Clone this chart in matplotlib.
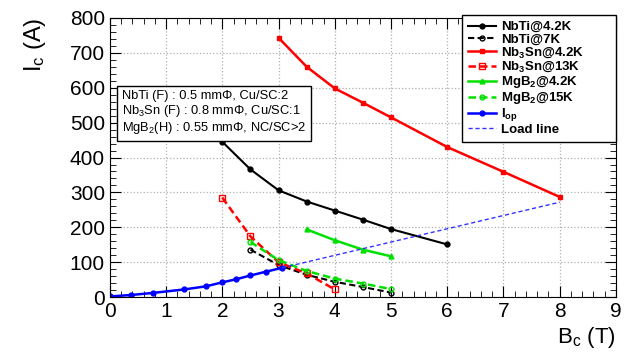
import matplotlib
matplotlib.use("Agg")
import matplotlib.pyplot as plt
from matplotlib.ticker import MultipleLocator

plt.rcParams['font.family'] = ['Liberation Sans', 'DejaVu Sans']
plt.rcParams['mathtext.fontset'] = 'custom'
plt.rcParams['mathtext.rm'] = 'Liberation Sans'
plt.rcParams['mathtext.it'] = 'Liberation Sans'
plt.rcParams['mathtext.bf'] = 'Liberation Sans:bold'

# NbTi
nbti_42_b = [2, 2.5, 3, 3.5, 4, 4.5, 5, 6]
nbti_42_i = [445, 366, 306, 274, 248, 222, 195, 151]
nbti_7_b = [2.5, 3, 3.5, 4, 4.5, 5]
nbti_7_i = [136, 92, 64, 44, 29, 13]
# Nb3Sn
nb3sn_42_b = [3, 3.5, 4, 4.5, 5, 6, 7, 8]
nb3sn_42_i = [743, 660, 598, 557, 515, 430, 359, 287]
nb3sn_13_b = [2, 2.5, 3, 3.5, 4]
nb3sn_13_i = [285, 174, 100, 68, 22]
# MgB2
mgb2_42_b = [3.5, 4, 4.5, 5]
mgb2_42_i = [194, 163, 136, 117]
mgb2_15_b = [2.5, 3, 3.5, 4, 4.5, 5]
mgb2_15_i = [158, 106, 75, 53, 39, 23]
# operating current and load line
iop_b = [0, 0.37, 0.76, 1.32, 1.71, 1.99, 2.24, 2.5, 2.78, 3.06]
iop_i = [2, 6, 12, 22, 31, 42, 51, 62, 73, 84]
load_b = [3.06, 8]
load_i = [84, 272]

info_lines = ["NbTi (F) : 0.5 mm\u03a6, Cu/SC:2",
              "Nb$_3$Sn (F) : 0.8 mm\u03a6, Cu/SC:1",
              "MgB$_2$(H) : 0.55 mm\u03a6, NC/SC>2"]

fig = plt.figure(figsize=(6.35, 3.58), dpi=100)
ax = fig.add_axes([0.173, 0.170, 0.797, 0.780])

ms = 3.5
green = '#00e000'
dash = (3, 1.6)
ax.plot(nbti_42_b, nbti_42_i, '-o', color='black', lw=1.5, ms=ms, label='NbTi@4.2K')
ax.plot(nbti_7_b, nbti_7_i, '--o', color='black', lw=1.5, ms=ms, mfc='none', dashes=dash, label='NbTi@7K')
ax.plot(nb3sn_42_b, nb3sn_42_i, '-s', color='red', lw=1.8, ms=ms, label=r'Nb$_\mathbf{3}$Sn@4.2K')
ax.plot(nb3sn_13_b, nb3sn_13_i, '--s', color='red', lw=1.8, ms=ms + 1, mfc='none', dashes=dash,
        label=r'Nb$_\mathbf{3}$Sn@13K')
ax.plot(mgb2_42_b, mgb2_42_i, '-^', color=green, lw=1.8, ms=ms, label=r'MgB$_\mathbf{2}$@4.2K')
ax.plot(mgb2_15_b, mgb2_15_i, '--o', color=green, lw=1.8, ms=ms, mfc='none', dashes=dash,
        label=r'MgB$_\mathbf{2}$@15K')
ax.plot(iop_b, iop_i, '-o', color='blue', lw=1.8, ms=ms, label=r'I$_\mathbf{op}$')
ax.plot(load_b, load_i, '--', color='#3333ff', lw=1.0, dashes=(3, 2), label='Load line')

ax.set_xlim(0, 9)
ax.set_ylim(0, 800)
ax.xaxis.set_major_locator(MultipleLocator(1))
ax.xaxis.set_minor_locator(MultipleLocator(0.2))
ax.yaxis.set_major_locator(MultipleLocator(100))
ax.yaxis.set_minor_locator(MultipleLocator(20))
ax.tick_params(which='both', direction='in', top=True, right=True, labelsize=15)
ax.tick_params(which='major', length=8)
ax.tick_params(which='minor', length=4)
ax.grid(True, which='major', color='#b0b0b0', ls=':', lw=0.9)

ax.set_ylabel(r'I$_\mathrm{c}$ (A)', fontsize=17, loc='top', labelpad=16)
ax.set_xlabel(r'B$_\mathrm{c}$ (T)', fontsize=16, loc='right', labelpad=3)

ax.text(0.024, 0.743, "\n".join(info_lines), transform=ax.transAxes, fontsize=9.3,
        va='top', ha='left', linespacing=1.1,
        bbox=dict(boxstyle='square,pad=0.4', fc='white', ec='black', lw=1.0))

# fixed-width legend box, as in the original
leg = ax.legend(loc='upper left', bbox_to_anchor=(0.696, 0, 0.304, 1.01), mode='expand',
                borderaxespad=0, prop={'weight': 'bold', 'size': 9.5}, fancybox=False,
                framealpha=1, edgecolor='black', handlelength=2.1, handletextpad=0.4,
                labelspacing=0.0, borderpad=0.45)
leg.get_frame().set_linewidth(1.0)

fig.savefig('out.png', dpi=100)
